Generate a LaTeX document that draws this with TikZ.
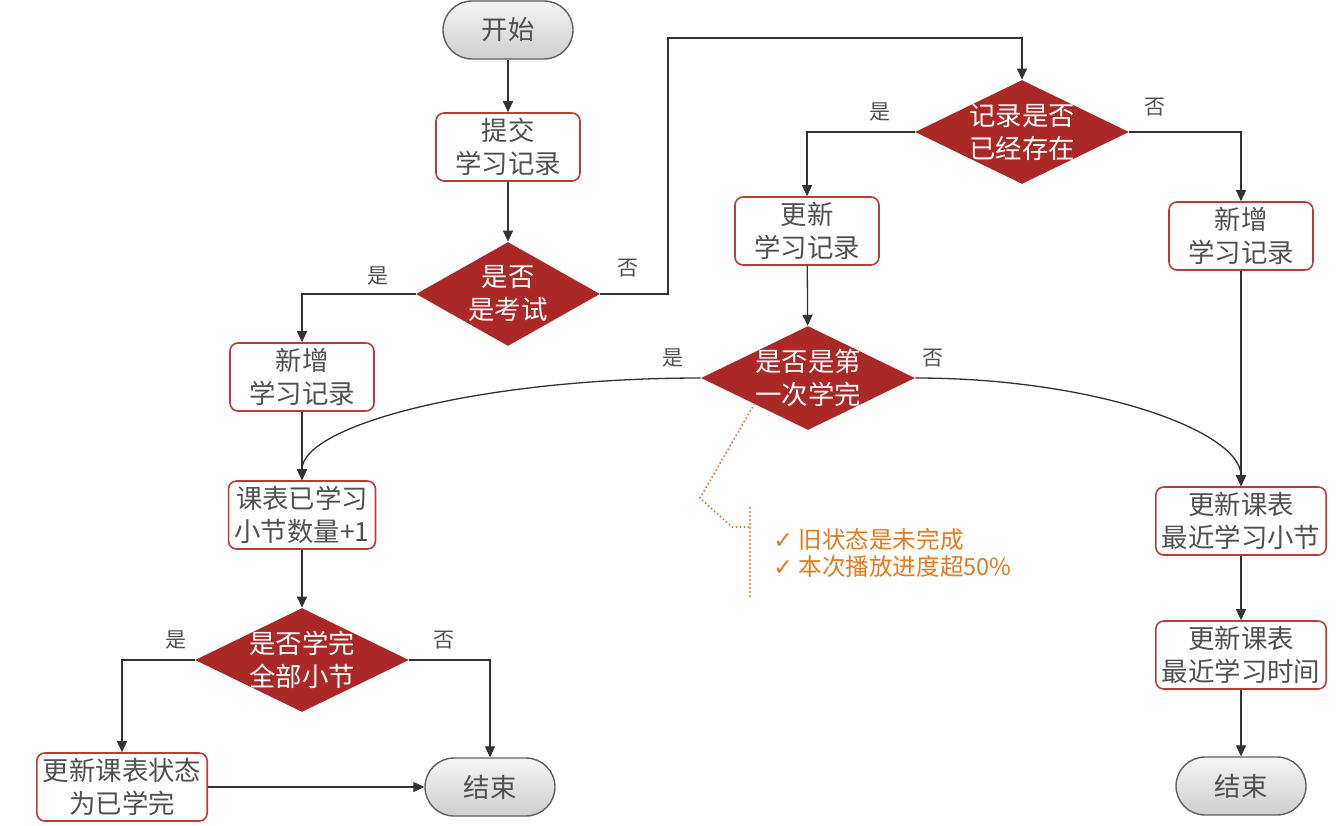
\documentclass[tikz,border=0pt]{standalone}
\usepackage{fontspec}
\setmainfont{Noto Sans CJK SC}
\newfontfamily\symfont{DejaVu Sans}
\usepackage{tikz}
\usetikzlibrary{arrows.meta, positioning, shapes.geometric}
\definecolor{flowred}{RGB}{170,41,38}
\definecolor{boxred}{RGB}{190,58,55}
\definecolor{txtgray}{RGB}{80,80,80}
\definecolor{linegray}{RGB}{50,50,50}
\definecolor{pillgray}{RGB}{95,95,95}
\definecolor{noteorange}{RGB}{230,120,30}

\begin{document}
\begin{tikzpicture}[
  x=0.5pt, y=-0.5pt,
  font=\fontsize{13.2}{16.5}\selectfont,
  box/.style={draw=boxred, line width=0.8pt, rounded corners=4pt, fill=white,
              align=center, text=txtgray, minimum width=72pt, minimum height=34pt,
              inner xsep=3pt, inner ysep=2pt},
  pill/.style={draw=pillgray, line width=0.7pt, rounded corners=14.5pt,
              top color=gray!8, bottom color=gray!38, text=txtgray,
              minimum width=65pt, minimum height=29pt},
  decide/.style={diamond, aspect=2, fill=flowred, text=white, align=center,
              inner sep=-1.2pt, minimum width=107pt, minimum height=52pt},
  lbl/.style={font=\fontsize{10.5}{12}\selectfont, text=txtgray},
  arr/.style={-{Triangle[length=5.5pt,width=5pt]}, line width=0.65pt, draw=linegray},
  note/.style={draw=noteorange, line width=1.1pt, dash pattern=on 0pt off 2pt, line cap=round},
]
\useasboundingbox (0,0) rectangle (1337,825);

% --- left column: submit, exam check, exam branch ---
\node[pill] (start) at (508,30) {开始};
\node[box] (submit) at (508,147) {提交\\学习记录};
\node[decide, minimum width=92pt] (isexam) at (508,294) {是否\\是考试};
\node[box] (addA) at (302,377) {新增\\学习记录};
\node[box] (count) at (302,515) {课表已学习\\小节数量+1};
\node[decide] (allDone) at (302,660) {是否学完\\全部小节};
\node[box] (finish) at (122,787) {更新课表状态\\为已学完};
\node[pill] (endA) at (490,787) {结束};

% --- right part: record exists?, first time finished? ---
\node[decide] (exists) at (1022,132) {记录是否\\已经存在};
\node[box] (update) at (807,231) {更新\\学习记录};
\node[box] (addB) at (1241,236) {新增\\学习记录};
\node[decide] (first) at (808,378) {是否是第\\一次学完};
\node[box] (section) at (1241,521) {更新课表\\最近学习小节};
\node[box] (time) at (1241,655) {更新课表\\最近学习时间};
\node[pill] (endB) at (1241,786) {结束};

% --- branch labels ---
\node[lbl] (isexamYes) at (378,276) {是};
\node[lbl] (isexamNo) at (628,268) {否};
\node[lbl] (existsYes) at (880,112) {是};
\node[lbl] (existsNo) at (1155,107) {否};
\node[lbl] (firstYes) at (673,358) {是};
\node[lbl] (firstNo) at (933,358) {否};
\node[lbl] (allDoneYes) at (176,640) {是};
\node[lbl] (allDoneNo) at (444,640) {否};

% --- condition note for "first time finished" ---
\node[anchor=west, align=left, text=noteorange, inner xsep=0pt,
      font=\fontsize{11.8}{13.5}\selectfont] (cond) at (773,553)
  {{\symfont ✓}\ 旧状态是未完成\\{\symfont ✓}\ 本次播放进度超50\%};
\coordinate (bendA) at (700,498);
\coordinate (bendB) at (732,527);
\coordinate (hook) at (750,527);
\coordinate (barTop) at (750,508);
\coordinate (barBot) at (750,597);

% --- wiring ---
\draw[arr] (start) -- (submit);
\draw[arr] (submit) -- (isexam);
\draw[arr] (isexam.west) -| (addA.north);
\coordinate (detour) at (668,38);
\draw[arr] (isexam.east) -| (detour) -| (exists.north);
\draw[arr] (addA) -- (count);
\draw[arr] (count) -- (allDone);
\draw[arr] (allDone.west) -| (finish.north);
\draw[arr] (allDone.east) -| (endA.north);
\draw[arr] (finish) -- (endA);

\draw[arr] (exists.west) -| (update.north);
\draw[arr] (exists.east) -| (addB.north);
\draw[arr] (update) -- (first);
\draw[arr] (first.west) .. controls +(-220,0) and +(0,-55) .. (count.north);
\draw[arr] (first.east) .. controls +(180,0) and +(0,-55) .. (section.north);
\draw[arr] (addB) -- (section);
\draw[arr] (section) -- (time);
\draw[arr] (time) -- (endB);

\draw[note] (first.south west) -- (bendA) -- (bendB) -- (hook);
\draw[note] (barTop) -- (barBot);

\end{tikzpicture}
\end{document}
